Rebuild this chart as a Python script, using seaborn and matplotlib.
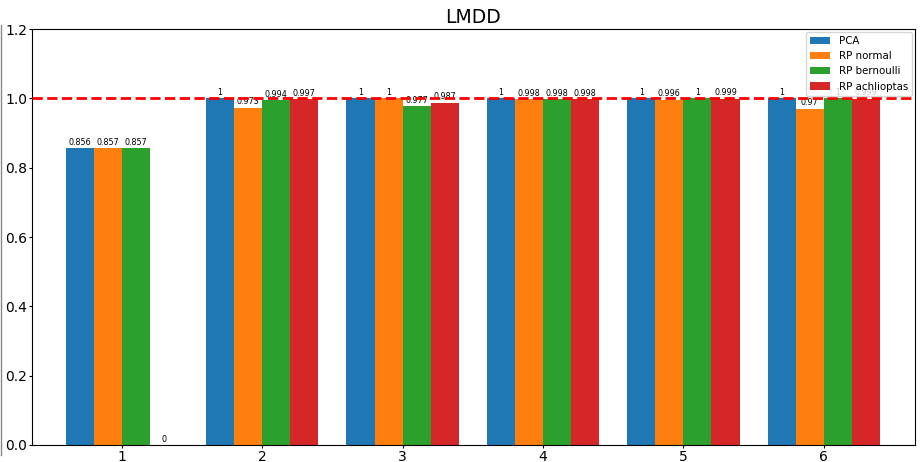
import matplotlib
matplotlib.use("Agg")
import matplotlib.pyplot as plt
from matplotlib.lines import Line2D
import pandas as pd
import seaborn as sns

groups = ["1", "2", "3", "4", "5", "6"]
methods = ["PCA", "RP normal", "RP bernoulli", "RP achlioptas"]
pca = [0.856, 1, 1, 1, 1, 1]
rp_normal = [0.857, 0.973, 1, 0.998, 0.996, 0.97]
rp_bernoulli = [0.857, 0.994, 0.977, 0.998, 1, 1]
rp_achlioptas = [0, 0.997, 0.987, 0.998, 0.999, 0.999]
colors = ["#1f77b4", "#ff7f0e", "#2ca02c", "#d62728"]

rows = []
for name, vals in zip(methods, [pca, rp_normal, rp_bernoulli, rp_achlioptas]):
    for g, v in zip(groups, vals):
        rows.append({"group": g, "method": name, "score": v})
df = pd.DataFrame(rows)

fig = plt.figure(figsize=(9.23, 4.62), dpi=100)
ax = fig.add_axes([0.0347, 0.0368, 0.9566, 0.9004])

sns.barplot(data=df, x="group", y="score", hue="method", order=groups,
            hue_order=methods, palette=colors, saturation=1, width=0.8,
            linewidth=0, ax=ax, errorbar=None)

for cont in ax.containers:
    ax.bar_label(cont, fmt="%g", fontsize=5.8, padding=1)

ax.axhline(1.0, color="red", linestyle="--", linewidth=2, zorder=5)

ax.set_ylim(0, 1.2)
ax.set_xlim(-0.64, 5.65)
ax.set_xlabel("")
ax.set_ylabel("")
ax.set_title("LMDD", fontsize=13.5, pad=4)
ax.tick_params(axis="both", labelsize=10, length=2, pad=1.5)
ax.legend(loc="upper right", fontsize=7.4, title=None, borderaxespad=0.3)

fig.add_artist(Line2D([0.0008, 0.0008], [0.015, 0.945], color="#888888",
                      linewidth=1, transform=fig.transFigure))

fig.savefig("out.png", dpi=100)
